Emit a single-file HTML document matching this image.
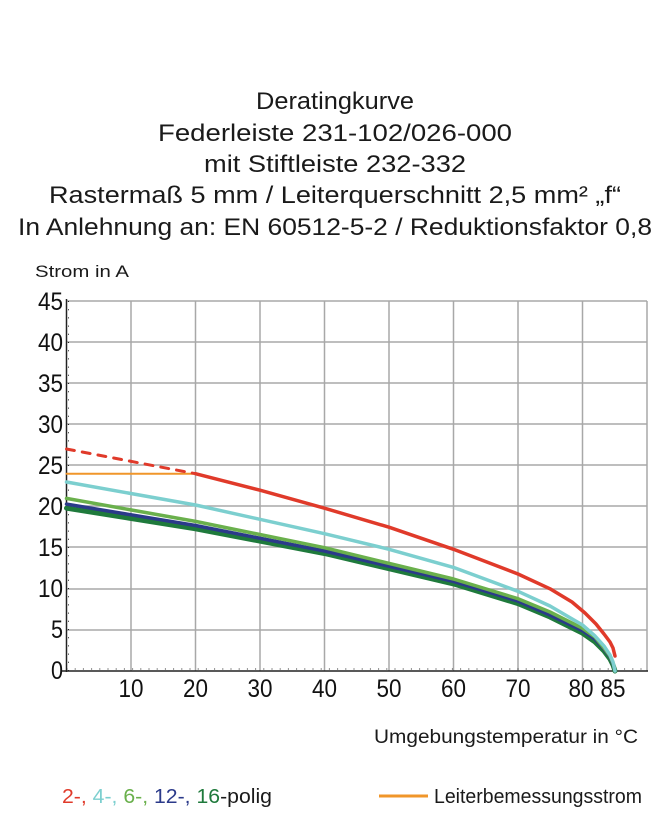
<!DOCTYPE html>
<html><head><meta charset="utf-8"><style>body{margin:0;background:#fff}svg{display:block}</style></head><body>
<svg width="670" height="836" viewBox="0 0 670 836" xmlns="http://www.w3.org/2000/svg" font-family="Liberation Sans, sans-serif">
<g fill="#1a1a1a" font-size="24" text-anchor="middle">
<text x="335" y="109" textLength="158" lengthAdjust="spacingAndGlyphs">Deratingkurve</text>
<text x="335" y="141" textLength="354" lengthAdjust="spacingAndGlyphs">Federleiste 231-102/026-000</text>
<text x="335" y="172" textLength="262" lengthAdjust="spacingAndGlyphs">mit Stiftleiste 232-332</text>
<text x="335" y="203" textLength="572" lengthAdjust="spacingAndGlyphs">Rastermaß 5 mm / Leiterquerschnitt 2,5 mm² „f“</text>
<text x="335" y="235" textLength="634" lengthAdjust="spacingAndGlyphs">In Anlehnung an: EN 60512-5-2 / Reduktionsfaktor 0,8</text>
</g>
<text x="35" y="277" font-size="17" fill="#1a1a1a" textLength="94" lengthAdjust="spacingAndGlyphs">Strom in A</text>
<g stroke="#a8a8a8" stroke-width="1.5">
<line x1="131" y1="301" x2="131" y2="671"/><line x1="195.5" y1="301" x2="195.5" y2="671"/><line x1="260" y1="301" x2="260" y2="671"/><line x1="324.5" y1="301" x2="324.5" y2="671"/><line x1="389" y1="301" x2="389" y2="671"/><line x1="453.5" y1="301" x2="453.5" y2="671"/><line x1="518" y1="301" x2="518" y2="671"/><line x1="582.5" y1="301" x2="582.5" y2="671"/><line x1="647" y1="301" x2="647" y2="671"/>
<line x1="66.5" y1="301" x2="647" y2="301"/><line x1="66.5" y1="342" x2="647" y2="342"/><line x1="66.5" y1="383" x2="647" y2="383"/><line x1="66.5" y1="424" x2="647" y2="424"/><line x1="66.5" y1="465" x2="647" y2="465"/><line x1="66.5" y1="506" x2="647" y2="506"/><line x1="66.5" y1="547" x2="647" y2="547"/><line x1="66.5" y1="589" x2="647" y2="589"/><line x1="66.5" y1="630" x2="647" y2="630"/>
</g>
<g stroke="#222" stroke-width="1.5"><line x1="66.5" y1="299" x2="66.5" y2="672"/><line x1="62" y1="671" x2="648" y2="671"/></g>
<g stroke="#222" stroke-width="1" stroke-dasharray="1 7.2"><line x1="66.5" y1="669" x2="648" y2="669"/><line x1="68.5" y1="301" x2="68.5" y2="671"/></g>
<g font-size="25" fill="#111" text-anchor="end">
<text x="63" y="310" textLength="25" lengthAdjust="spacingAndGlyphs">45</text><text x="63" y="351" textLength="25" lengthAdjust="spacingAndGlyphs">40</text><text x="63" y="392" textLength="25" lengthAdjust="spacingAndGlyphs">35</text><text x="63" y="433" textLength="25" lengthAdjust="spacingAndGlyphs">30</text><text x="63" y="474" textLength="25" lengthAdjust="spacingAndGlyphs">25</text><text x="63" y="515" textLength="25" lengthAdjust="spacingAndGlyphs">20</text><text x="63" y="556" textLength="25" lengthAdjust="spacingAndGlyphs">15</text><text x="63" y="597" textLength="25" lengthAdjust="spacingAndGlyphs">10</text><text x="63" y="638" textLength="12" lengthAdjust="spacingAndGlyphs">5</text><text x="63" y="679" textLength="12" lengthAdjust="spacingAndGlyphs">0</text>
</g>
<g font-size="25" fill="#111" text-anchor="middle">
<text x="131" y="697" textLength="25" lengthAdjust="spacingAndGlyphs">10</text><text x="195.5" y="697" textLength="25" lengthAdjust="spacingAndGlyphs">20</text><text x="260" y="697" textLength="25" lengthAdjust="spacingAndGlyphs">30</text><text x="324.5" y="697" textLength="25" lengthAdjust="spacingAndGlyphs">40</text><text x="389" y="697" textLength="25" lengthAdjust="spacingAndGlyphs">50</text><text x="453.5" y="697" textLength="25" lengthAdjust="spacingAndGlyphs">60</text><text x="518" y="697" textLength="25" lengthAdjust="spacingAndGlyphs">70</text><text x="581" y="697" textLength="25" lengthAdjust="spacingAndGlyphs">80</text><text x="613" y="697" textLength="25" lengthAdjust="spacingAndGlyphs">85</text>
</g>
<g fill="none" stroke-linejoin="round" stroke-linecap="round">
<polyline stroke="#1f7a3c" stroke-width="5" points="66.5,508.2 195.5,528.8 324.5,553.5 453.5,583.9 518,603.6 550,617 582.5,633.2 595,642 604,651 610,659 613,665 615,671"/>
<polyline stroke="#2b3a8a" stroke-width="3.5" points="66.5,504.1 195.5,525.5 324.5,551 453.5,581.4 518,601.1 550,615 582.5,630.7 595,639 604,649 610,657 613,664 615,671"/>
<polyline stroke="#6ab04c" stroke-width="3.5" points="66.5,498.4 195.5,521.4 324.5,547.7 453.5,579 518,598.7 550,612 582.5,628.3 595,637 604,648 610,656 613,663 615,671"/>
<polyline stroke="#7ccfcf" stroke-width="3.5" points="66.5,482 195.5,505 324.5,533.7 389,549.3 453.5,567.4 518,591.3 550,606 582.5,625 595,636 604,646 610,655 613,662 615,671"/>
<polyline stroke="#f0962a" stroke-width="2" points="66.5,473.7 195.5,473.7"/>
<polyline stroke="#e03a2a" stroke-width="3" stroke-dasharray="8 8" points="66.5,449 195.5,473.7"/>
<polyline stroke="#e03a2a" stroke-width="3.5" points="195.5,473.7 260,490.2 324.5,508.2 389,527.2 453.5,549.3 518,574 550,588.8 572,602 585,613 596,624 604,634 610,642 613,648 615,656"/>
</g>
<text x="374" y="743" font-size="19" fill="#1a1a1a" textLength="264" lengthAdjust="spacingAndGlyphs">Umgebungstemperatur in °C</text>
<text x="62" y="803" font-size="20" textLength="210" lengthAdjust="spacingAndGlyphs"><tspan fill="#e03a2a">2-, </tspan><tspan fill="#7ccfcf">4-, </tspan><tspan fill="#6ab04c">6-, </tspan><tspan fill="#2b3a8a">12-, </tspan><tspan fill="#1f7a3c">16</tspan><tspan fill="#1a1a1a">-polig</tspan></text>
<line x1="379" y1="796" x2="428" y2="796" stroke="#f0962a" stroke-width="3"/>
<text x="434" y="803" font-size="20" fill="#1a1a1a" textLength="208" lengthAdjust="spacingAndGlyphs">Leiterbemessungsstrom</text>
</svg>
</body></html>
